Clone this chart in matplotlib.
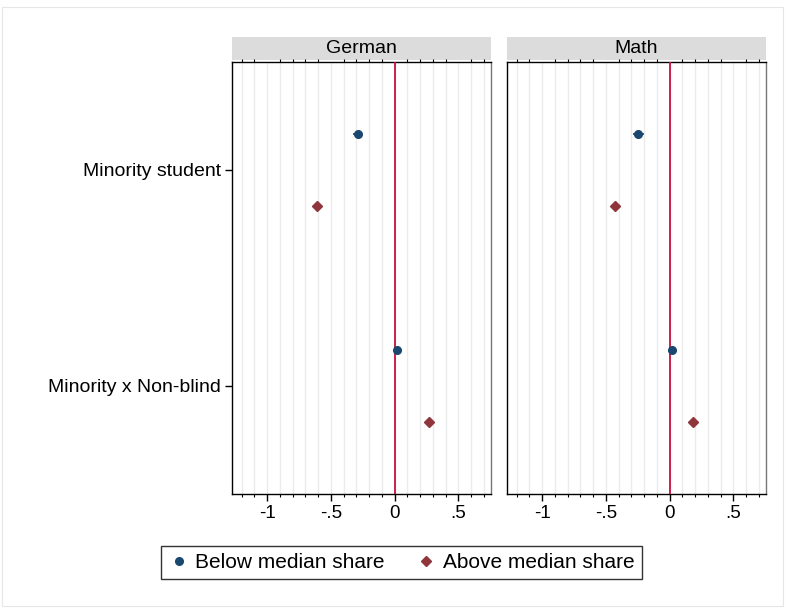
import matplotlib.pyplot as plt
from matplotlib.lines import Line2D
from matplotlib.patches import Rectangle
from matplotlib.ticker import MultipleLocator, FixedLocator

plt.rcParams['font.family'] = ['Liberation Sans', 'DejaVu Sans']

# data
panels = ["German", "Math"]
variables = ["Minority student", "Minority x Non-blind"]
below_est = {"German": [-0.29, 0.015], "Math": [-0.245, 0.015]}
below_ci = {"German": [0.035, 0.02], "Math": [0.045, 0.02]}
above_est = {"German": [-0.61, 0.27], "Math": [-0.43, 0.18]}
above_ci = {"German": [0.02, 0.02], "Math": [0.02, 0.02]}
xticks = [-1, -0.5, 0, 0.5]
xticklabels = ["-1", "-.5", "0", ".5"]

blue = "#1a476f"
maroon = "#90353b"
zero_red = "#c8103e"

fig = plt.figure(figsize=(7.87, 6.08), dpi=100)
fig.patches.append(Rectangle((0.003, 0.003), 0.992, 0.985, transform=fig.transFigure,
                             fill=False, edgecolor="#e6e6e6", lw=0.8))

lefts = [232 / 787, 507 / 787]
width = 259 / 787
bottom = 1 - 494 / 608
height = (494 - 62) / 608
off = 0.165

for i, name in enumerate(panels):
    ax = fig.add_axes([lefts[i], bottom, width, height])
    ypos = [k + 1 for k in range(len(variables))]
    ax.errorbar(below_est[name], [y - off for y in ypos], xerr=below_ci[name], fmt="o",
                color=blue, ms=5.5, elinewidth=1.2, capsize=0, zorder=4)
    ax.errorbar(above_est[name], [y + off for y in ypos], xerr=above_ci[name], fmt="D",
                color=maroon, ms=5, elinewidth=1.2, capsize=0, zorder=4)
    ax.axvline(0, color=zero_red, lw=1.3, zorder=3)
    ax.set_xlim(-1.276, 0.756)
    ax.set_ylim(2.5, 0.5)
    ax.xaxis.set_major_locator(FixedLocator(xticks))
    ax.set_xticklabels(xticklabels, fontsize=13.5)
    ax.xaxis.set_minor_locator(MultipleLocator(0.1))
    ax.grid(which="both", axis="x", color="#ebebeb", lw=1.0, zorder=0)
    ax.tick_params(axis="x", which="major", length=5, width=1, pad=3, top=False)
    ax.tick_params(axis="x", which="minor", length=2.5, width=0.8, top=True)
    for s in ax.spines.values():
        s.set_color("black")
        s.set_linewidth(1.0)
    ax.spines["right"].set_color("#777777")
    if i == 0:
        ax.set_yticks(ypos)
        ax.set_yticklabels(variables, fontsize=14)
        ax.tick_params(axis="y", length=5, width=1, pad=3)
    else:
        ax.set_yticks([])
    # strip header
    ax.add_patch(Rectangle((0, 1.0 + 2 / 432), 1, 23 / 432, transform=ax.transAxes,
                           facecolor="#dcdcdc", edgecolor="none", clip_on=False))
    ax.text(0.5, 1.0 + 13.5 / 432, name, transform=ax.transAxes, ha="center",
            va="center", fontsize=14)

handles = [Line2D([], [], marker="o", color=blue, ls="none", ms=5.5),
           Line2D([], [], marker="D", color=maroon, ls="none", ms=5)]
fig.legend(handles, ["Below median share", "Above median share"], loc="center",
           bbox_to_anchor=(401.5 / 787, 1 - 562.5 / 608), ncol=2, fontsize=15,
           frameon=True, fancybox=False, edgecolor="black", handletextpad=0.3,
           columnspacing=1.5, handlelength=1.0, borderpad=0.35)

fig.savefig("out.png", dpi=100)
